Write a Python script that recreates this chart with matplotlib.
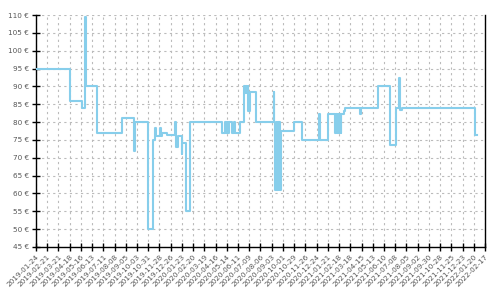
import numpy as np
import pandas as pd
import matplotlib
matplotlib.use("Agg")
import matplotlib.pyplot as plt

# price history (step changes)
dates = [
    "2019-01-24", "2019-04-18", "2019-05-19", "2019-05-27", "2019-05-29",
    "2019-06-26", "2019-08-26", "2019-09-25", "2019-09-28", "2019-10-30",
    "2019-11-12", "2019-11-17", "2019-11-19", "2019-11-30", "2019-12-02",
    "2019-12-05", "2019-12-16", "2020-01-06", "2020-01-08", "2020-01-12",
    "2020-01-22", "2020-01-24", "2020-02-03", "2020-02-13", "2020-05-02",
    "2020-05-10", "2020-05-13", "2020-05-15", "2020-05-17", "2020-05-19",
    "2020-05-27", "2020-06-02", "2020-06-04", "2020-06-16", "2020-06-27",
    "2020-06-29", "2020-07-01", "2020-07-04", "2020-07-06", "2020-07-07",
    "2020-07-11", "2020-07-26", "2020-09-08", "2020-09-09", "2020-09-12",
    "2020-09-15", "2020-09-16", "2020-09-18", "2020-09-20", "2020-09-22",
    "2020-09-23", "2020-09-25", "2020-10-29", "2020-11-17", "2020-12-30",
    "2021-01-01", "2021-01-22", "2021-02-08", "2021-02-10", "2021-02-13",
    "2021-02-15", "2021-02-18", "2021-02-20", "2021-02-22", "2021-02-24",
    "2021-03-02", "2021-03-06", "2021-04-11", "2021-04-13", "2021-05-27",
    "2021-06-25", "2021-07-10", "2021-07-17", "2021-07-19", "2021-07-24",
    "2022-01-22", "2022-01-27",
]
prices = [
    95, 86, 84, 109.5, 90,
    77, 81, 72, 80, 50,
    75, 78.3, 76, 78.3, 76,
    77, 76.4, 80, 73, 76,
    71, 74, 55, 80, 77,
    80, 77, 80, 77, 80,
    77, 80, 77, 80, 90,
    88, 90, 88, 90, 83,
    88.5, 80, 88.3, 80, 61,
    80, 61, 80, 61, 80,
    61, 77.6, 80, 75, 82.3,
    75, 82.3, 77, 82.3, 77,
    82.3, 77, 82.3, 77, 82.3,
    83, 84, 82.3, 84, 90,
    73.6, 84, 92.3, 83.4, 84,
    76.4, 76.4,
]

x_start = "2019-01-24"
x_end = "2022-02-17"
tick_step_days = 28
y_ticks = np.arange(45, 111, 5)

line_color = "#87CEEB"
text_color = "#555555"

d = pd.to_datetime(dates)
x0 = pd.Timestamp(x_start)
x1 = pd.Timestamp(x_end)
tick_dates = pd.date_range(x0, x1, freq=f"{tick_step_days}D")

fig = plt.figure(figsize=(5, 3), dpi=100)
ax = fig.add_axes([0.072, 0.177, 0.898, 0.773])

ax.step(d, prices, where="post", color=line_color, linewidth=1.5, zorder=3)

ax.set_xlim(x0, x1)
ax.set_ylim(45, 110)
ax.set_yticks(y_ticks)
ax.set_yticklabels([f"{v} €" for v in y_ticks])
ax.set_xticks(tick_dates)
ax.set_xticklabels([t.strftime("%Y-%m-%d") for t in tick_dates],
                   rotation=45, ha="right", rotation_mode="anchor")

ax.grid(True, color="#bbbbbb", linestyle=(0, (2, 3)), linewidth=0.8)
ax.set_axisbelow(True)

ax.spines["top"].set_visible(False)
for s in ["left", "bottom", "right"]:
    ax.spines[s].set_linewidth(1.0)
    ax.spines[s].set_color("black")

ax.tick_params(axis="both", direction="inout", length=6, width=1,
               colors="black", labelcolor=text_color)
ax.tick_params(axis="y", labelsize=5.2, pad=2)
ax.tick_params(axis="x", labelsize=5.2, pad=1.5)

fig.savefig("out.png", dpi=100)
